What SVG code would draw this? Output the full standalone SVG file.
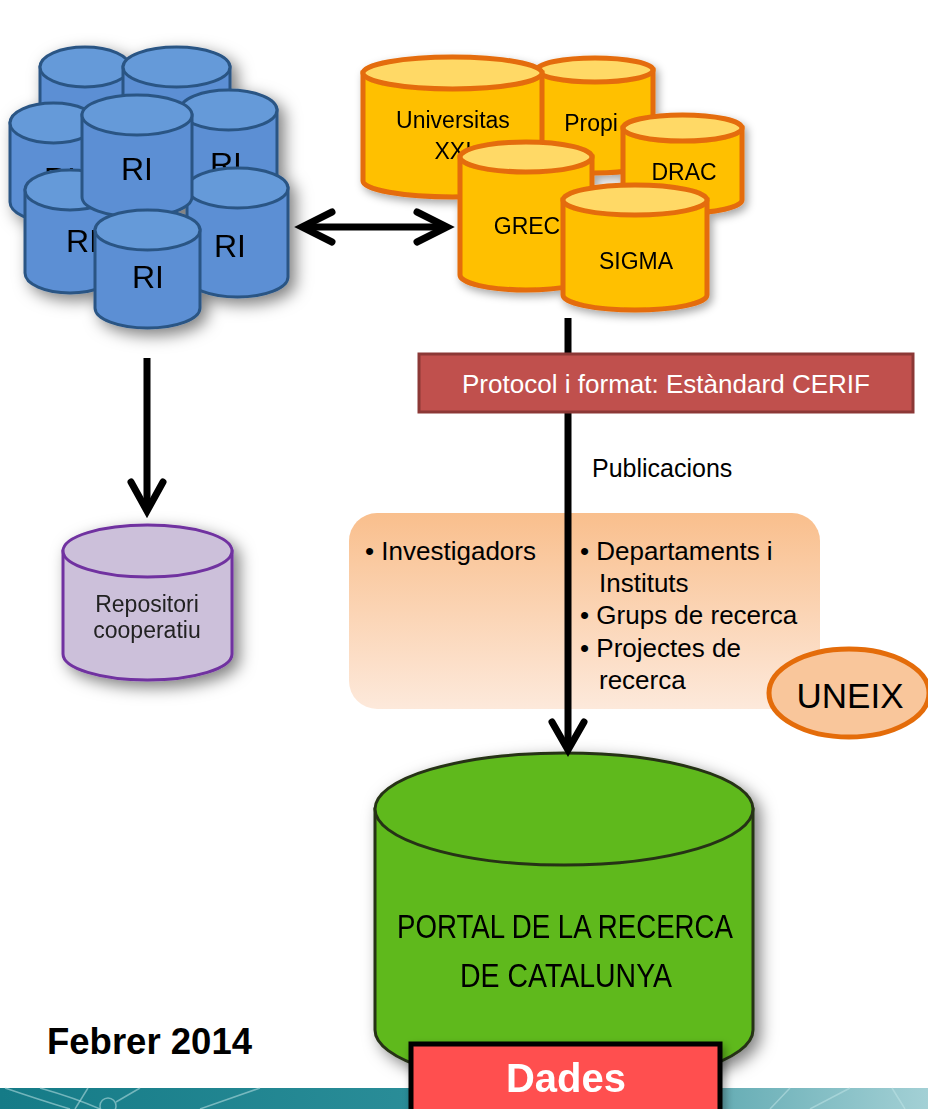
<svg xmlns="http://www.w3.org/2000/svg" width="928" height="1109" viewBox="0 0 928 1109">
<defs>
<style>
.blue path,.blue ellipse{fill:#5b8fd4;stroke:#2a5584;stroke-width:3}
.blue ellipse{fill:#659ad9}
.yel path{fill:#ffc000;stroke:#e46c0a;stroke-width:5}
.yel ellipse{fill:#ffd966;stroke:#e46c0a;stroke-width:5}
.ri{font-family:"Liberation Sans",Arial,sans-serif;font-size:32px;fill:#000;text-anchor:middle}
.yt{font-family:"Liberation Sans",Arial,sans-serif;font-size:23px;fill:#000;text-anchor:middle}
.ar{font-family:"Liberation Sans",Arial,sans-serif;font-size:26px;fill:#000}
.conn line,.conn polyline{stroke:#000;fill:none;stroke-width:7;stroke-linecap:round;stroke-linejoin:miter}
.conn line{stroke-linecap:butt}
</style>
<filter id="sh" x="-20%" y="-20%" width="150%" height="150%">
<feDropShadow dx="6" dy="6" stdDeviation="8" flood-color="#000" flood-opacity="0.5"/>
</filter>
<filter id="sh2" x="-20%" y="-20%" width="150%" height="150%">
<feDropShadow dx="3" dy="4" stdDeviation="4" flood-color="#000" flood-opacity="0.35"/>
</filter>
<linearGradient id="boxg" x1="0" y1="0" x2="0" y2="1">
<stop offset="0" stop-color="#f9bf8d"/>
<stop offset="1" stop-color="#fde9db"/>
</linearGradient>
<linearGradient id="strip" x1="0" y1="0" x2="1" y2="0">
<stop offset="0" stop-color="#157b87"/>
<stop offset="0.45" stop-color="#2a8d98"/>
<stop offset="0.75" stop-color="#5fa9b1"/>
<stop offset="1" stop-color="#a3d0d5"/>
</linearGradient>
</defs>
<rect width="928" height="1109" fill="#fff"/>

<g id="strip-band">
<rect x="0" y="1088" width="928" height="21" fill="url(#strip)"/>
<g stroke="#bfe3e6" stroke-opacity="0.55" stroke-width="1.5" fill="none">
<path d="M5,1088 Q40,1100 70,1109"/>
<path d="M40,1088 Q75,1098 100,1109"/>
<path d="M75,1109 L88,1088"/>
<circle cx="108" cy="1106" r="8"/>
<path d="M116,1102 L140,1088"/>
<path d="M200,1109 L260,1088"/>
<path d="M770,1109 L790,1088"/>
<path d="M810,1109 L850,1088"/>
<path d="M892,1088 L905,1109"/>
</g>
</g>

<g id="ri-cluster" class="blue" filter="url(#sh)">
<path d="M40,67 V145 A45,20 0 0 0 130,145 V67 Z"/><ellipse cx="85" cy="67" rx="45" ry="20"/>
<path d="M123,67 V145 A53.5,20 0 0 0 230,145 V67 Z"/><ellipse cx="176.5" cy="67" rx="53.5" ry="20"/>
<path d="M10,123 V202 A43.5,20 0 0 0 97,202 V123 Z"/><ellipse cx="53.5" cy="123" rx="43.5" ry="20"/>
<text class="ri" x="60" y="190">RI</text>
<path d="M180,110 V190 A48.5,20 0 0 0 277,190 V110 Z"/><ellipse cx="228.5" cy="110" rx="48.5" ry="20"/>
<text class="ri" x="226" y="175">RI</text>
<path d="M25,190 V273 A45,20 0 0 0 115,273 V190 Z"/><ellipse cx="70" cy="190" rx="45" ry="20"/>
<text class="ri" x="82" y="252">RI</text>
<path d="M187,188 V277 A50.5,20 0 0 0 288,277 V188 Z"/><ellipse cx="237.5" cy="188" rx="50.5" ry="20"/>
<text class="ri" x="230" y="257">RI</text>
<path d="M82,115 V197 A55,20 0 0 0 192,197 V115 Z"/><ellipse cx="137" cy="115" rx="55" ry="20"/>
<text class="ri" x="137" y="180">RI</text>
<path d="M95,230 V308 A52.5,20 0 0 0 200,308 V230 Z"/><ellipse cx="147.5" cy="230" rx="52.5" ry="20"/>
<text class="ri" x="148" y="288">RI</text>
</g>

<g id="sources" class="yel" filter="url(#sh2)">
<g id="propi"><path d="M537,70 V161 A58,12 0 0 0 653,161 V70 Z"/><ellipse cx="595" cy="70" rx="58" ry="12"/><text class="yt" x="591" y="131">Propi</text></g>
<g id="universitas"><path d="M363,73 V181 A89.5,16 0 0 0 542,181 V73 Z"/><ellipse cx="452.5" cy="73" rx="89.5" ry="16"/><text class="yt" x="453" y="128">Universitas</text><text class="yt" x="453" y="159">XXI</text></g>
<g id="drac"><path d="M623,128 V200 A59.5,13 0 0 0 742,200 V128 Z"/><ellipse cx="682.5" cy="128" rx="59.5" ry="13"/><text class="yt" x="684" y="180">DRAC</text></g>
<g id="grec"><path d="M460,157 V275 A66,15 0 0 0 592,275 V157 Z"/><ellipse cx="526" cy="157" rx="66" ry="15"/><text class="yt" x="527" y="234">GREC</text></g>
<g id="sigma"><path d="M563,200 V295 A72,15 0 0 0 707,295 V200 Z"/><ellipse cx="635" cy="200" rx="72" ry="15"/><text class="yt" x="636" y="269">SIGMA</text></g>
</g>

<g id="repositori" filter="url(#sh)">
<path d="M63,551 V654 A84.5,26 0 0 0 232,654 V551 Z" fill="#ccc0da" stroke="#7030a0" stroke-width="3"/>
<ellipse cx="147.5" cy="551" rx="84.5" ry="26" fill="#ccc0da" stroke="#7030a0" stroke-width="3"/>
<text x="147" y="612" font-family="Liberation Sans,Arial,sans-serif" font-size="23" text-anchor="middle" fill="#222">Repositori</text>
<text x="147" y="638" font-family="Liberation Sans,Arial,sans-serif" font-size="23" text-anchor="middle" fill="#222">cooperatiu</text>
</g>

<g id="portal" filter="url(#sh)">
<path d="M375,809 V1030 A189,56 0 0 0 753,1030 V809 Z" fill="#5eb91e" stroke="#263214" stroke-width="3"/>
<ellipse cx="564" cy="809" rx="189" ry="56" fill="#5eb91e" stroke="#263214" stroke-width="3"/>
<text x="565" y="938" font-family="Liberation Sans,Arial,sans-serif" font-size="33" text-anchor="middle" textLength="336" lengthAdjust="spacingAndGlyphs" fill="#000">PORTAL DE LA RECERCA</text>
<text x="566" y="987" font-family="Liberation Sans,Arial,sans-serif" font-size="33" text-anchor="middle" textLength="212" lengthAdjust="spacingAndGlyphs" fill="#000">DE CATALUNYA</text>
</g>

<g id="entitats">
<rect x="349" y="513" width="471" height="196" rx="28" fill="url(#boxg)"/>
<text class="ar" x="365" y="560">• Investigadors</text>
<text class="ar" x="580" y="560">• Departaments i</text>
<text class="ar" x="599" y="592">Instituts</text>
<text class="ar" x="580" y="624">• Grups de recerca</text>
<text class="ar" x="580" y="657">• Projectes de</text>
<text class="ar" x="599" y="689">recerca</text>
</g>

<g class="conn" id="connectors">
<line x1="306" y1="227" x2="443" y2="227"/>
<polyline points="332,212 302,227 332,242"/>
<polyline points="417,212 447,227 417,242"/>
<line x1="147" y1="358" x2="147" y2="508"/>
<polyline points="131,482 147,511 163,482"/>
<line x1="568" y1="318" x2="568" y2="746"/>
<polyline points="552,722 568,750 584,722"/>
<text x="592" y="477" font-family="Liberation Sans,Arial,sans-serif" font-size="25" fill="#000" stroke="none">Publicacions</text>
</g>

<g id="protocol">
<rect x="419" y="354" width="494" height="58" fill="#c0504d" stroke="#8c3836" stroke-width="3"/>
<text x="666" y="393" font-family="Liberation Sans,Arial,sans-serif" font-size="25" text-anchor="middle" textLength="408" lengthAdjust="spacingAndGlyphs" fill="#fff">Protocol i format: Estàndard CERIF</text>
</g>

<g id="uneix">
<ellipse cx="849" cy="693" rx="80" ry="44" fill="#f9c69b" stroke="#e46c0a" stroke-width="5"/>
<text x="850" y="708" font-family="Liberation Sans,Arial,sans-serif" font-size="35" text-anchor="middle" fill="#000">UNEIX</text>
</g>

<g id="dades" filter="url(#sh2)">
<rect x="411" y="1044" width="309" height="75" fill="#ff5050" stroke="#000" stroke-width="5"/>
<text x="566" y="1092" font-family="Liberation Sans,Arial,sans-serif" font-size="40" font-weight="bold" text-anchor="middle" textLength="120" lengthAdjust="spacingAndGlyphs" fill="#fff">Dades</text>
</g>

<g id="data">
<text x="47" y="1054" font-family="Liberation Sans,Arial,sans-serif" font-size="36" font-weight="bold" textLength="205" lengthAdjust="spacingAndGlyphs" fill="#000">Febrer 2014</text>
</g>
</svg>
